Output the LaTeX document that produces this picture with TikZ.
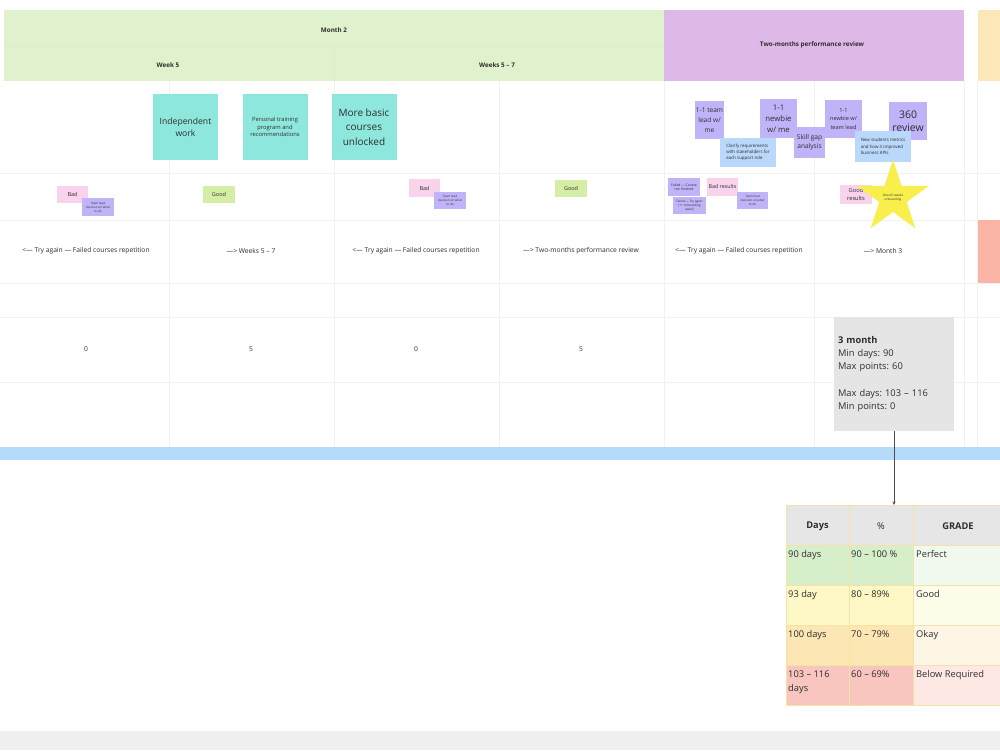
\documentclass[tikz,border=0pt]{standalone}
\usepackage{fontspec}
\setmainfont{Open Sans}
\frenchspacing
\usetikzlibrary{shapes.geometric,arrows.meta}
\definecolor{hgreen}{HTML}{DFF2CD}
\definecolor{hgreenline}{HTML}{D9EEC6}
\definecolor{hpurple}{HTML}{DEB8E6}
\definecolor{horange}{HTML}{FBE7B8}
\definecolor{salmon}{HTML}{F9B4A6}
\definecolor{gridc}{HTML}{F1F1F1}
\definecolor{tealn}{HTML}{8EE7DC}
\definecolor{lavn}{HTML}{C0B3F8}
\definecolor{bluen}{HTML}{B9D8FB}
\definecolor{pinkn}{HTML}{F9D2EC}
\definecolor{greenn}{HTML}{D5EEA5}
\definecolor{starc}{HTML}{F8EF4C}
\definecolor{cardc}{HTML}{E5E5E5}
\definecolor{barc}{HTML}{B4DCFA}
\definecolor{bandc}{HTML}{F0F0F0}
\definecolor{txt}{HTML}{2E2E2E}
\definecolor{tg}{HTML}{D6EEC9}\definecolor{tgl}{HTML}{F1F8EE}
\definecolor{ty}{HTML}{FDF8C6}\definecolor{tyl}{HTML}{FEFDEA}
\definecolor{to}{HTML}{FBE6B4}\definecolor{tol}{HTML}{FDF5E5}
\definecolor{tr}{HTML}{F8C6BE}\definecolor{trl}{HTML}{FDE8E4}
\definecolor{tborder}{HTML}{F4E2A6}
\definecolor{thead}{HTML}{E6E6E6}
\newcommand{\fsz}[2]{\fontsize{#1}{#2}\selectfont}
\tikzset{
  gridline/.style={draw=gridc, line width=0.5pt},
  hline/.style={draw=hgreenline, line width=0.5pt},
  hdrtext/.style={font=\fsz{6.3}{8}\bfseries, text=txt, inner sep=0pt},
  note/.style={inner sep=0.5pt, align=center, text=txt, anchor=center},
  tealnote/.style={note, fill=tealn, minimum width=65pt, minimum height=66pt},
  lavnote/.style={note, fill=lavn},
  bluenote/.style={note, fill=bluen, align=left},
  pinknote/.style={note, fill=pinkn},
  greennote/.style={note, fill=greenn},
  rowlabel/.style={font=\fsz{6.7}{8}, text=txt, inner sep=0pt},
  cell/.style={draw=tborder, line width=0.6pt},
  celltext/.style={anchor=north west, font=\fsz{9.3}{14}, text=txt, inner sep=0pt, align=left},
  headtext/.style={font=\fsz{9.3}{12}, text=txt, inner sep=0pt},
}
\begin{document}
\begin{tikzpicture}[x=1pt,y=-1pt]
\useasboundingbox (0,0) rectangle (1000,750);
\fill[white] (0,0) rectangle (1000,750);
% grid
\foreach \x in {169,334,499,664,814,964,977} \draw[gridline] (\x,81) -- (\x,447);
\foreach \y in {173,220,283,317,382} \draw[gridline] (0,\y) -- (1000,\y);
% header
\fill[hgreen] (4,10) rectangle (664,81);
\fill[hpurple] (664,10) rectangle (964,81);
\fill[horange] (978,10) rectangle (1000,81);
\draw[hline] (4,46) -- (664,46);
\draw[hline] (334,46) -- (334,81);
\node[hdrtext] (m2) at (334,30) {Month 2};
\node[hdrtext] (w5) at (168,65) {Week 5};
\node[hdrtext] (w57) at (497,65) {Weeks 5 – 7};
\node[hdrtext] (tmpr) at (812,45) {Two-months performance review};
% salmon strip and blue bar
\fill[salmon] (978,220) rectangle (1000,283);
\fill[barc] (0,447) rectangle (1000,460);
\fill[bandc] (0,731) rectangle (1000,750);
% sticky notes row 1
\node[tealnote, font=\fsz{8.6}{12}] (indep) at (185.5,127) {Independent\\work};
\node[tealnote, font=\fsz{5.8}{7.7}] (ptrain) at (275,127) {Personal training\\program and\\recommendations};
\node[tealnote, font=\fsz{10}{14.3}] (mbasic) at (364,127) {More basic\\courses\\unlocked};
\node[lavnote, minimum width=27pt, minimum height=38pt, font=\fsz{6.6}{10}] (tl) at (709.5,120) {1-1 team\\lead w/\\me};
\node[bluenote, minimum width=56pt, minimum height=29pt, font=\fsz{4.4}{6.3}] (clar) at (748,152.5) {Clarify requirements\\with stakeholders for\\each support role};
\node[lavnote, minimum width=37pt, minimum height=39pt, font=\fsz{7.8}{11}] (nb) at (778.5,118.5) {1-1\\newbie\\w/ me};
\node[lavnote, minimum width=31pt, minimum height=31pt, font=\fsz{6.6}{9}] (skill) at (809.5,142.5) {Skill gap\\analysis};
\node[lavnote, minimum width=37pt, minimum height=38pt, font=\fsz{5.6}{8.3}] (nbtl) at (843.5,119) {1-1\\newbie w/\\team lead};
\node[lavnote, minimum width=38pt, minimum height=38pt, font=\fsz{10.5}{13.5}] (r360) at (908,121) {360\\review};
\node[bluenote, minimum width=56pt, minimum height=31pt, font=\fsz{4.4}{6.3}] (nsm) at (883,146.5) {New students metrics\\and how it improved\\business KPIs.};
% row 2 small notes
\node[pinknote, minimum width=31pt, minimum height=17pt, font=\fsz{5.5}{7}] (bad1) at (72.5,194.5) {Bad};
\node[lavnote, minimum width=32pt, minimum height=18pt, font=\fsz{3}{3.9}] (tld1) at (98,207) {Team lead\\decision on what\\to do};
\node[greennote, minimum width=32pt, minimum height=17pt, font=\fsz{5.5}{7}] (good1) at (219,194.5) {Good};
\node[pinknote, minimum width=31pt, minimum height=18pt, font=\fsz{5.5}{7}] (bad2) at (424.5,188) {Bad};
\node[lavnote, minimum width=32pt, minimum height=17pt, font=\fsz{3}{3.9}] (tld2) at (450,200.5) {Team lead\\decision on what\\to do};
\node[greennote, minimum width=32pt, minimum height=17pt, font=\fsz{5.5}{7}] (good2) at (571,188.5) {Good};
\node[lavnote, minimum width=32pt, minimum height=18pt, font=\fsz{3.4}{4.4}] (fcnf) at (684,187) {Failed — Course\\not finished};
\node[pinknote, minimum width=31pt, minimum height=18pt, font=\fsz{5.3}{7}] (badr) at (722.5,187) {Bad results};
\node[lavnote, minimum width=33pt, minimum height=17pt, font=\fsz{3.1}{4}] (fta) at (689.5,205.5) {Failed — Try again\\(+1 onboarding\\week)};
\node[lavnote, minimum width=31pt, minimum height=17pt, font=\fsz{3}{3.9}] (tld3) at (752.5,200.5) {Team lead\\decision on what\\to do};
\node[pinknote, minimum width=32pt, minimum height=19pt, font=\fsz{5.7}{8}] (goodr) at (856,194.5) {Good\\results};
\node[star, star points=5, star point ratio=2.618, minimum size=61pt, inner sep=0pt, fill=starc, text=txt, font=\fsz{3.1}{3.9}, align=center] (star) at (893,197.5) {Good 6-weeks\\onboarding};
% row labels
\node[rowlabel] (l1) at (86,251) {<— Try again — Failed courses repetition};
\node[rowlabel] (l2) at (251,251) {—> Weeks 5 – 7};
\node[rowlabel] (l3) at (416,251) {<— Try again — Failed courses repetition};
\node[rowlabel] (l4) at (581,251) {—> Two-months performance review};
\node[rowlabel] (l5) at (739,251) {<— Try again — Failed courses repetition};
\node[rowlabel] (l6) at (883,251) {—> Month 3};
% numbers
\node[rowlabel] (n1) at (86,349) {0};
\node[rowlabel] (n2) at (251,349) {5};
\node[rowlabel] (n3) at (416,349) {0};
\node[rowlabel] (n4) at (581,349) {5};
% card
\node[fill=cardc, minimum width=120pt, minimum height=114pt, text width=112pt, align=left, inner sep=0pt, text=txt, font=\fsz{9.3}{13.2}] (card) at (894,374)
  {\textbf{3 month}\\Min days: 90\\Max points: 60\\[13.2pt]Max days: 103 – 116\\Min points: 0};
\coordinate (tabtop) at (894,505);
\draw[line width=0.6pt, draw=black!70, -{Stealth[length=3.5pt,width=3pt]}] (card.south) -- (tabtop);
% table cells
\fill[thead] (786,505) rectangle (1000,545);
\fill[tg] (786,545) rectangle (913,585); \fill[tgl] (913,545) rectangle (1000,585);
\fill[ty] (786,585) rectangle (913,625); \fill[tyl] (913,585) rectangle (1000,625);
\fill[to] (786,625) rectangle (913,665); \fill[tol] (913,625) rectangle (1000,665);
\fill[tr] (786,665) rectangle (913,705); \fill[trl] (913,665) rectangle (1000,705);
\foreach \y in {505,545,585,625,665,705} \draw[cell] (786,\y) -- (1000,\y);
\foreach \x in {786,849,913} \draw[cell] (\x,505) -- (\x,705);
% table text
\node[headtext, font=\fsz{9.3}{12}\bfseries] (hdays) at (817.5,526) {Days};
\node[headtext] (hpct) at (881,526) {\%};
\node[headtext, font=\fsz{9.3}{12}\bfseries] (hgrade) at (958,526) {GRADE};
\node[celltext] (c11) at (788,550) {\rule{0pt}{7.5pt}90 days};
\node[celltext] (c12) at (851,550) {\rule{0pt}{7.5pt}90 – 100 \%};
\node[celltext] (c13) at (916,550) {\rule{0pt}{7.5pt}Perfect};
\node[celltext] (c21) at (788,590) {\rule{0pt}{7.5pt}93 day};
\node[celltext] (c22) at (851,590) {\rule{0pt}{7.5pt}80 – 89\%};
\node[celltext] (c23) at (916,590) {\rule{0pt}{7.5pt}Good};
\node[celltext] (c31) at (788,630) {\rule{0pt}{7.5pt}100 days};
\node[celltext] (c32) at (851,630) {\rule{0pt}{7.5pt}70 – 79\%};
\node[celltext] (c33) at (916,630) {\rule{0pt}{7.5pt}Okay};
\node[celltext] (c41) at (788,669.5) {\rule{0pt}{7.5pt}103 – 116\\days};
\node[celltext] (c42) at (851,669.5) {\rule{0pt}{7.5pt}60 – 69\%};
\node[celltext] (c43) at (916,669.5) {\rule{0pt}{7.5pt}Below Required};
\end{tikzpicture}
\end{document}
